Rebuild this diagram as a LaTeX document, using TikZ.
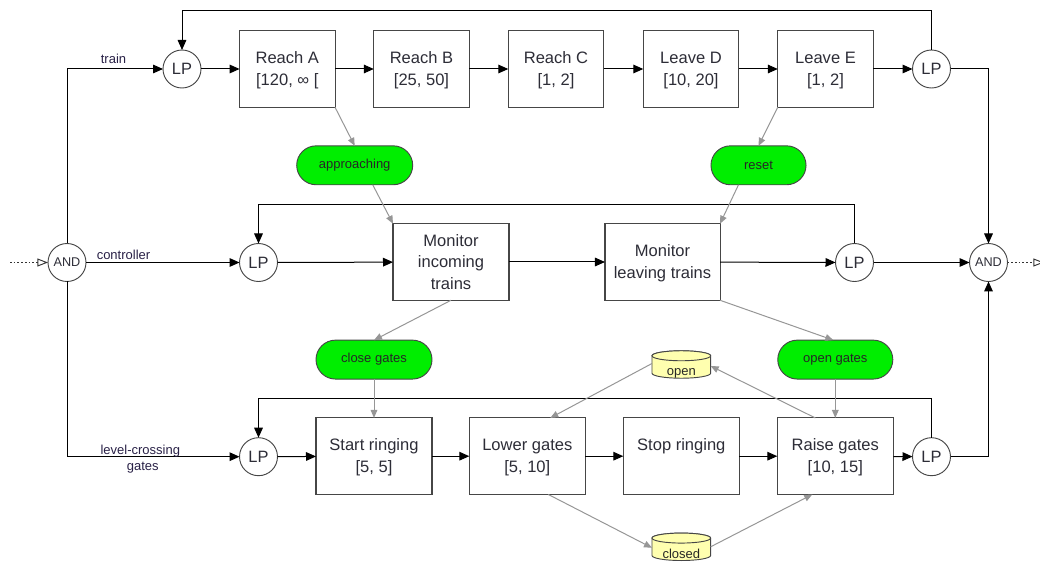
\documentclass[tikz,border=0pt]{standalone}
\usepackage{fontspec}
\setmainfont{Liberation Sans}
\usetikzlibrary{arrows.meta,calc}
\definecolor{pillgreen}{RGB}{0,238,0}
\definecolor{drumfill}{RGB}{255,255,175}
\definecolor{softgray}{RGB}{150,150,150}
\definecolor{edgegray}{RGB}{70,70,70}
\definecolor{inktext}{RGB}{45,45,55}
\definecolor{labeltext}{RGB}{40,32,70}
% a taller first line keeps two-line box texts optically centred
\newcommand\firstline{\rule{0pt}{10.6pt}}
\begin{document}
\begin{tikzpicture}[x=0.75pt,y=-0.75pt,
  every node/.style={inner sep=0pt,outer sep=0pt},
  task/.style={draw=edgegray,line width=0.8pt,fill=white,
    minimum width=71.6pt,minimum height=57.4pt,align=center,
    text=inktext,font=\fontsize{12.4}{16.4}\selectfont},
  widetask/.style={task,minimum width=87pt},
  lp/.style={circle,draw=edgegray,line width=0.7pt,fill=white,
    minimum size=28.5pt,text=inktext,font=\fontsize{12.3}{14}\selectfont},
  andgate/.style={lp,font=\fontsize{9.5}{11}\selectfont},
  event/.style={draw=edgegray,line width=0.7pt,fill=pillgreen,
    rounded corners=14.6pt,minimum width=87pt,minimum height=29.2pt,
    font=\fontsize{9.75}{12}\selectfont,text=black!85},
  drumbox/.style={minimum width=44pt,minimum height=20.6pt},
  drumline/.style={draw=edgegray,line width=0.7pt,fill=drumfill},
  small/.style={font=\fontsize{9.75}{12}\selectfont,text=labeltext},
  flow/.style={draw=black,line width=0.75pt,
    -{Triangle[length=7.5pt,width=6.5pt]}},
  signal/.style={draw=softgray,line width=0.75pt,
    -{Triangle[length=6pt,width=5pt]}},
  dotflow/.style={draw=black!80,line width=0.8pt,
    dash pattern=on 1.2pt off 1.6pt,
    -{Triangle[open,fill=white,length=8pt,width=6pt,line width=0.7pt]}}
]
\useasboundingbox (0,0) rectangle (1040,563);

% ---- train row
\node[lp] (lpTL) at (182,69) {LP};
\node[task] (rA) at (287.3,69) {\firstline Reach A\\{[}120, ∞ {[}};
\node[task] (rB) at (421.5,69) {\firstline Reach B\\{[}25, 50{]}};
\node[task] (rC) at (556,69) {\firstline Reach C\\{[}1, 2{]}};
\node[task] (lD) at (691,69) {\firstline Leave D\\{[}10, 20{]}};
\node[task] (lE) at (825.5,69) {\firstline Leave E\\{[}1, 2{]}};
\node[lp] (lpTR) at (931.5,69) {LP};

% ---- controller row
\node[andgate] (andL) at (67,262.5) {AND};
\node[lp] (lpML) at (258.5,262.5) {LP};
\node[widetask,font=\fontsize{12.4}{15.9}\selectfont] (mI) at (451,262) {Monitor\\incoming\\trains};
\node[widetask,minimum width=86.3pt] (mL) at (662.5,262) {\firstline Monitor\\leaving trains};
\node[lp] (lpMR) at (854.5,262.5) {LP};
\node[andgate] (andR) at (988.5,262.5) {AND};

% ---- gate row
\node[lp] (lpBL) at (258.5,456.7) {LP};
\node[widetask] (sR) at (374,456.2) {\firstline Start ringing\\{[}5, 5{]}};
\node[widetask] (lG) at (527.3,456.2) {\firstline Lower gates\\{[}5, 10{]}};
\node[widetask] (stR) at (681.3,456.2) {\firstline Stop ringing\\\phantom{{[}5, 5{]}}};
\node[widetask] (rG) at (835.3,456.2) {\firstline Raise gates\\{[}10, 15{]}};
\node[lp] (lpBR) at (931.5,456.7) {LP};

% ---- events
\node[event] (appr) at (354.7,165.3) {approaching};
\node[event,minimum width=71.3pt] (reset) at (758.5,165.3) {reset};
\node[event] (cg) at (374,359.6) {close gates};
\node[event,minimum width=86.3pt] (og) at (835.3,359.6) {open gates};

% ---- gate state drums
\node[drumbox] (open) at (681.3,364.5) {};
\node[drumbox] (closed) at (681.3,546.8) {};
\foreach \d in {open,closed}{
  \filldraw[drumline] ($(\d.north west)+(0,5)$) -- ($(\d.south west)+(0,-5)$)
    arc[start angle=180,end angle=360,x radius=22pt,y radius=3.75pt]
    -- ($(\d.north east)+(0,5)$)
    arc[start angle=0,end angle=180,x radius=22pt,y radius=3.75pt] -- cycle;
  \draw[drumline] ($(\d.north)+(0,5)$) ellipse[x radius=22pt,y radius=3.75pt];
}
\node[small,text=black!85,anchor=base] (openlbl) at (681.3,375.3) {open};
\node[small,text=black!85,anchor=base] (closedlbl) at (681.3,558.8) {closed};

% ---- helper points for loops and the outer ports
\coordinate (busT) at (182,10.5);
\coordinate (busM) at (258.5,204.3);
\coordinate (busB) at (258.5,398.3);
\coordinate (inport) at (10,262.5);
\coordinate (outport) at (1044,262.5);

% ---- main flow
\draw[flow] (lpTL) -- (rA);
\draw[flow] (rA) -- (rB);
\draw[flow] (rB) -- (rC);
\draw[flow] (rC) -- (lD);
\draw[flow] (lD) -- (lE);
\draw[flow] (lE) -- (lpTR);
\draw[flow] (lpTR.north) |- (busT) -- (lpTL.north);

\draw[flow] (lpML) -- (mI);
\draw[flow] (mI) -- (mL);
\draw[flow] (mL) -- (lpMR);
\draw[flow] (lpMR.north) |- (busM) -- (lpML.north);

\draw[flow] (lpBL) -- (sR);
\draw[flow] (sR) -- (lG);
\draw[flow] (lG) -- (stR);
\draw[flow] (stR) -- (rG);
\draw[flow] (rG) -- (lpBR);
\draw[flow] (lpBR.north) |- (busB) -- (lpBL.north);

\draw[flow] (andL.north) |- (lpTL.west);
\draw[flow] (andL.east) -- (lpML.west);
\draw[flow] (andL.south) |- (lpBL.west);
\draw[flow] (lpTR.east) -| (andR.north);
\draw[flow] (lpMR.east) -- (andR.west);
\draw[flow] (lpBR.east) -| (andR.south);

\draw[dotflow] (inport) -- (andL.west);
\draw[dotflow] (andR.east) -- (outport);

\node[small,anchor=base] (trainlbl) at (113.5,64) {train};
\node[small,anchor=base] (ctrllbl) at (123.5,259.3) {controller};
\node[small,anchor=base] (lclbl) at (140.3,454) {level-crossing};
\node[small,anchor=base] (gateslbl) at (142.7,470) {gates};

% ---- event signals
\draw[signal] (rA.south east) -- (appr.north);
\draw[signal] ($(appr.south)+(18,0)$) -- (mI.north west);
\draw[signal] (lE.south west) -- (reset.north);
\draw[signal] ($(reset.south)+(-20,0)$) -- (mL.north east);
\draw[signal] (mI.south) -- (cg.north);
\draw[signal] (mL.south east) -- ($(og.north)+(-2,0)$);
\draw[signal] (cg.south) -- (sR.north);
\draw[signal] (og.south) -- (rG.north);

% ---- gate state signals
\draw[signal] ($(open.west)+(0,-1)$) -- ($(lG.north)+(23,0)$);
\draw[signal] ($(rG.north)+(-20,0)$) -- ($(open.east)+(0,1.5)$);
\draw[signal] ($(lG.south)+(21,0)$) -- ($(closed.west)+(0,1)$);
\draw[signal] (closed.east) -- ($(rG.south)+(-23,0)$);
\end{tikzpicture}
\end{document}
